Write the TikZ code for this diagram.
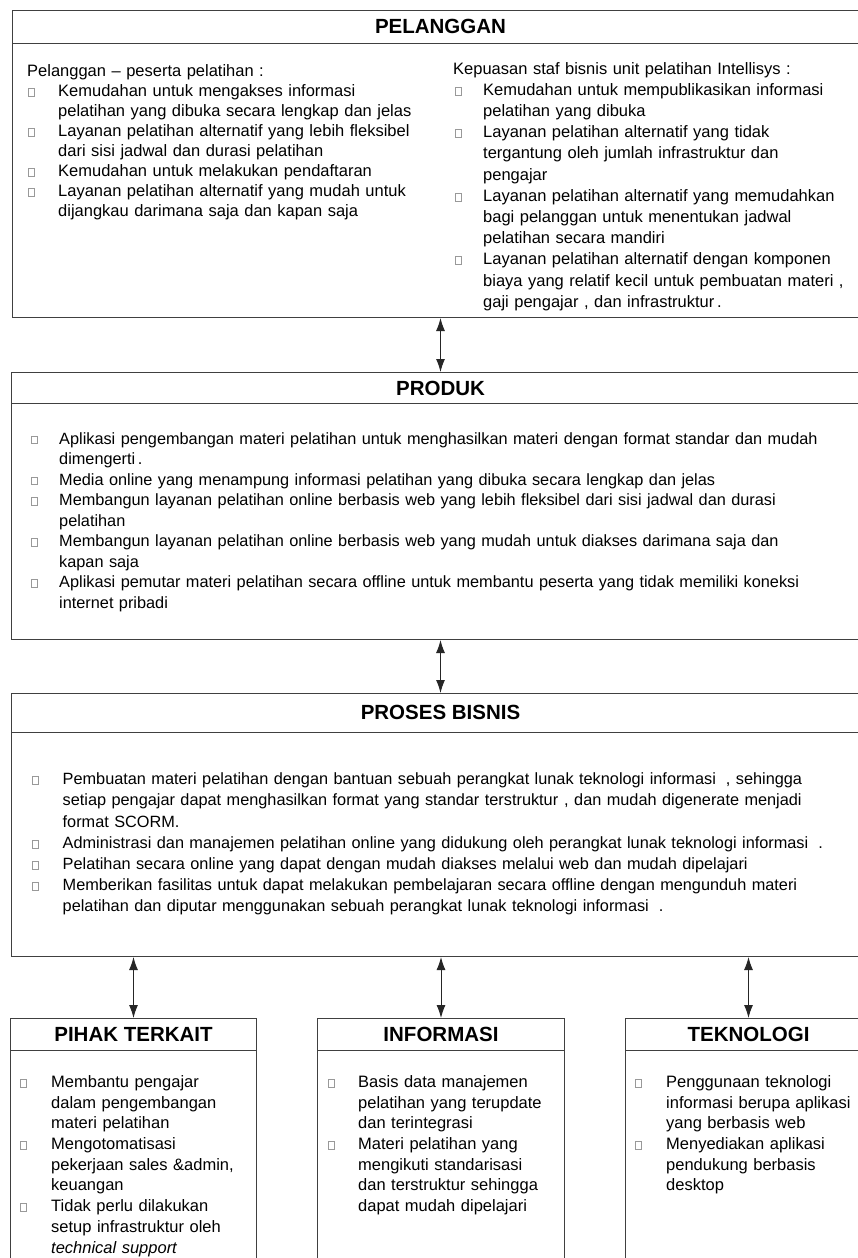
\documentclass[tikz,border=0pt]{standalone}
\usepackage{fontspec}
\setmainfont{Liberation Sans}
\usetikzlibrary{arrows.meta,calc}
\newlength\lind
\newlength\lbxoff
\newcommand\bx{\raisebox{0.6pt}{\color{black!40}\setlength\fboxrule{0.5pt}\setlength\fboxsep{0pt}\fbox{\rule{0pt}{7.4pt}\rule{5.4pt}{0pt}}}}
\newcommand\li[1]{\par\hangindent=\lind\hangafter=1\noindent\strut\makebox[\lind][l]{\hspace*{\lbxoff}\bx}#1\par}
\newcommand\hd[1]{\par\noindent\strut#1\par}
\newcommand\setl[2]{\raggedright\setlength\lind{#1}\setlength\lbxoff{#2}}
\newcommand\nl{\newline}
\begin{document}
\begin{tikzpicture}[x=1pt,y=-1pt,
  box/.style={draw=black!75,line width=1pt,anchor=north west,inner sep=0pt},
  hline/.style={draw=black!75,line width=1pt},
  ttl/.style={font=\bfseries\fontsize{20.5}{24}\selectfont,inner sep=0pt},
  bodytxt/.style={anchor=north west,inner sep=0pt,text width=#1},
  arr/.style={{Latex[length=13pt,width=9pt]}-{Latex[length=13pt,width=9pt]},line width=1pt,draw=black!85}]
\fill[white] (0,0) rectangle (857,1258);
\useasboundingbox (0,0) rectangle (857,1258);

% boxes
\node[box,minimum width=856pt,minimum height=307.5pt] (pel) at (12,9.5) {};
\node[box,minimum width=858pt,minimum height=267pt] (prod) at (11,372) {};
\node[box,minimum width=858pt,minimum height=263pt] (pros) at (11,693) {};
\node[box,minimum width=246pt,minimum height=270pt] (pih) at (10,1018) {};
\node[box,minimum width=247pt,minimum height=270pt] (inf) at (317,1018) {};
\node[box,minimum width=246pt,minimum height=270pt] (tek) at (625,1018) {};

% header lines
\draw[hline] (pel.north west) ++(0,33.5) -- ++(856,0);
\draw[hline] (prod.north west) ++(0,31) -- ++(858,0);
\draw[hline] (pros.north west) ++(0,39) -- ++(858,0);
\draw[hline] (pih.north west) ++(0,32) -- ++(246,0);
\draw[hline] (inf.north west) ++(0,32) -- ++(247,0);
\draw[hline] (tek.north west) ++(0,32) -- ++(246,0);

% titles
\node[ttl] (tpel) at ($(pel.north)+(0,17)$) {PELANGGAN};
\node[ttl] (tprod) at ($(prod.north)+(0,16)$) {PRODUK};
\node[ttl] (tpros) at ($(pros.north)+(0,19.5)$) {PROSES BISNIS};
\node[ttl] (tpih) at ($(pih.north)+(0,16.5)$) {PIHAK TERKAIT};
\node[ttl] (tinf) at ($(inf.north)+(0,16.5)$) {INFORMASI};
\node[ttl] (ttek) at ($(tek.north)+(0,16.5)$) {TEKNOLOGI};

% texts
\node[bodytxt=420pt,font=\fontsize{16.5}{20.1}\selectfont] (pl) at (27,55.9) {\setl{31pt}{1pt}%
\hd{Pelanggan – peserta pelatihan :}
\li{Kemudahan untuk mengakses informasi\nl pelatihan yang dibuka secara lengkap dan jelas}
\li{Layanan pelatihan alternatif yang lebih fleksibel\nl dari sisi jadwal dan durasi pelatihan}
\li{Kemudahan untuk melakukan pendaftaran}
\li{Layanan pelatihan alternatif yang mudah untuk\nl dijangkau darimana saja dan kapan saja}};

\node[bodytxt=400pt,font=\fontsize{16.5}{21.2}\selectfont] (pr) at (453,52.7) {\setl{30pt}{2pt}%
\hd{Kepuasan staf bisnis unit pelatihan Intellisys :}
\li{Kemudahan untuk mempublikasikan informasi\nl pelatihan yang dibuka}
\li{Layanan pelatihan alternatif yang tidak\nl tergantung oleh jumlah infrastruktur dan\nl pengajar}
\li{Layanan pelatihan alternatif yang memudahkan\nl bagi pelanggan untuk menentukan jadwal\nl pelatihan secara mandiri}
\li{Layanan pelatihan alternatif dengan komponen\nl biaya yang relatif kecil untuk pembuatan materi ,\nl gaji pengajar , dan infrastruktur\,.}};

\node[bodytxt=820pt,font=\fontsize{16.3}{20.5}\selectfont] (prt) at (31,423.3) {\setl{28pt}{0pt}%
\li{Aplikasi pengembangan materi pelatihan untuk menghasilkan materi dengan format standar dan mudah\nl dimengerti\,.}
\li{Media online yang menampung informasi pelatihan yang dibuka secara lengkap dan jelas}
\li{Membangun layanan pelatihan online berbasis web yang lebih fleksibel dari sisi jadwal dan durasi\nl pelatihan}
\li{Membangun layanan pelatihan online berbasis web yang mudah untuk diakses darimana saja dan\nl kapan saja}
\li{Aplikasi pemutar materi pelatihan secara offline untuk membantu peserta yang tidak memiliki koneksi\nl internet pribadi}};

\node[bodytxt=820pt,font=\fontsize{16.3}{21.2}\selectfont] (pst) at (32,763.2) {\setl{30.5pt}{0pt}%
\li{Pembuatan materi pelatihan dengan bantuan sebuah perangkat lunak teknologi informasi\hspace{10pt}, sehingga\nl setiap pengajar dapat menghasilkan format yang standar terstruktur\hspace{6pt}, dan mudah digenerate menjadi\nl format SCORM.}
\li{Administrasi dan manajemen pelatihan online yang didukung oleh perangkat lunak teknologi informasi\hspace{10pt}.}
\li{Pelatihan secara online yang dapat dengan mudah diakses melalui web dan mudah dipelajari}
\li{Memberikan fasilitas untuk dapat melakukan pembelajaran secara offline dengan mengunduh materi\nl pelatihan dan diputar menggunakan sebuah perangkat lunak teknologi informasi\hspace{10pt}.}};

\node[bodytxt=240pt,font=\fontsize{16.5}{20.7}\selectfont] (piht) at (20,1066.5) {\setl{31pt}{0pt}%
\li{Membantu pengajar\nl dalam pengembangan\nl materi pelatihan}
\li{Mengotomatisasi\nl pekerjaan sales \&admin,\nl keuangan}
\li{Tidak perlu dilakukan\nl setup infrastruktur oleh\nl \textit{technical support}}};

\node[bodytxt=240pt,font=\fontsize{16.5}{20.7}\selectfont] (inft) at (328,1066.5) {\setl{30pt}{0pt}%
\li{Basis data manajemen\nl pelatihan yang terupdate\nl dan terintegrasi}
\li{Materi pelatihan yang\nl mengikuti standarisasi\nl dan terstruktur sehingga\nl dapat mudah dipelajari}};

\node[bodytxt=240pt,font=\fontsize{16.5}{20.7}\selectfont] (tekt) at (635,1066.5) {\setl{31pt}{0pt}%
\li{Penggunaan teknologi\nl informasi berupa aplikasi\nl yang berbasis web}
\li{Menyediakan aplikasi\nl pendukung berbasis\nl desktop}};

% connectors
\draw[arr] (pel.south) -- (prod.north);
\draw[arr] (prod.south) -- (pros.north);
\draw[arr] (pros.south -| pih.north) -- (pih.north);
\draw[arr] (pros.south -| inf.north) -- (inf.north);
\draw[arr] (pros.south -| tek.north) -- (tek.north);
\end{tikzpicture}
\end{document}
